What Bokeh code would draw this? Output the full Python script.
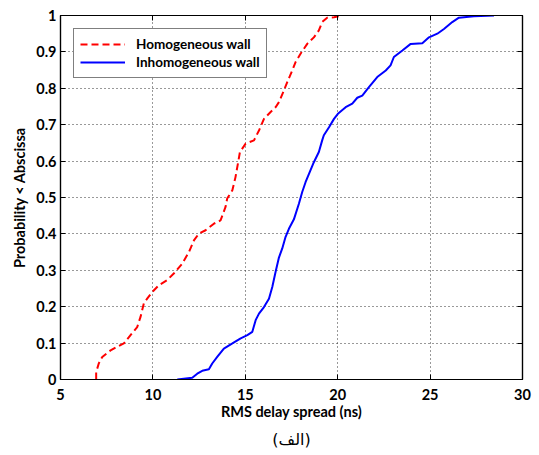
from bokeh.plotting import figure
from bokeh.models import (LinearAxis, FixedTicker, CustomJSTickFormatter, Title,
                          Legend, LegendItem, Range1d)
from bokeh.embed import file_html
from bokeh.resources import INLINE

# Homogeneous wall CDF (RMS delay spread in ns, probability)
homo_x = [6.93, 6.93, 7.07, 7.26, 7.71, 8.07, 8.43, 8.79, 9.15, 9.33, 9.51, 9.69, 9.96,
          10.32, 10.77, 11.13, 11.58, 11.95, 12.22, 12.49, 12.85, 13.30, 13.66, 13.93,
          14.02, 14.30, 14.47, 14.60, 14.71, 15.02, 15.47, 15.74, 16.01, 16.37, 16.64,
          16.82, 17.09, 17.27, 17.54, 17.72, 17.99, 18.35, 18.71, 18.98, 19.16, 19.43,
          19.80, 20.25]
homo_y = [0.0, 0.02, 0.044, 0.062, 0.080, 0.090, 0.099, 0.122, 0.144, 0.172, 0.209, 0.222,
          0.240, 0.259, 0.273, 0.291, 0.318, 0.350, 0.382, 0.401, 0.410, 0.428, 0.437,
          0.474, 0.497, 0.520, 0.556, 0.593, 0.625, 0.648, 0.657, 0.684, 0.716, 0.735,
          0.748, 0.762, 0.794, 0.817, 0.849, 0.872, 0.895, 0.922, 0.940, 0.959, 0.982,
          0.994, 0.995, 1.0]

# Inhomogeneous wall CDF
inho_x = [11.32, 12.13, 12.40, 12.67, 13.03, 13.21, 13.48, 13.84, 14.30, 14.75, 15.11,
          15.38, 15.56, 15.74, 16.01, 16.28, 16.46, 16.64, 16.82, 17.00, 17.18, 17.36,
          17.63, 17.90, 18.08, 18.26, 18.53, 18.71, 18.98, 19.16, 19.25, 19.53, 19.80,
          20.01, 20.43, 20.79, 21.06, 21.33, 21.69, 22.14, 22.60, 22.86, 23.04, 23.50,
          23.95, 24.58, 24.94, 25.39, 25.75, 26.20, 26.56, 27.37, 28.46]
inho_y = [0.0, 0.005, 0.016, 0.024, 0.028, 0.044, 0.062, 0.085, 0.099, 0.113, 0.122,
          0.131, 0.163, 0.181, 0.199, 0.222, 0.254, 0.296, 0.335, 0.360, 0.392, 0.414,
          0.440, 0.483, 0.515, 0.542, 0.575, 0.597, 0.625, 0.657, 0.671, 0.693, 0.716,
          0.730, 0.748, 0.758, 0.774, 0.780, 0.803, 0.831, 0.849, 0.863, 0.886, 0.904,
          0.922, 0.924, 0.940, 0.950, 0.963, 0.982, 0.994, 0.998, 1.0]

x_ticks = [5, 10, 15, 20, 25, 30]
y_ticks = [0, 0.1, 0.2, 0.3, 0.4, 0.5, 0.6, 0.7, 0.8, 0.9, 1.0]
series_names = ["Homogeneous wall", "Inhomogeneous wall"]
x_label = "RMS delay spread (ns)"
y_label = "Probability < Abscissa"
caption = "(الف)"

FONT = "Lato"

p = figure(width=539, height=455, output_backend="svg", toolbar_location=None,
           x_range=Range1d(5, 30), y_range=Range1d(0, 1),
           min_border_left=60, min_border_right=17, min_border_top=15, min_border_bottom=76)
p.background_fill_color = "white"
p.border_fill_color = "white"
p.outline_line_color = "black"
p.outline_line_width = 1.2

r1 = p.line(homo_x, homo_y, line_color="#ff0000", line_width=2, line_dash="7 4")
r2 = p.line(inho_x, inho_y, line_color="#0000ff", line_width=2)

yfmt = CustomJSTickFormatter(code="return tick.toFixed(1).replace(/\\.0$/, '');")
blank = CustomJSTickFormatter(code="return '';")

for ax in [p.xaxis[0], p.yaxis[0]]:
    ax.major_tick_in = 5
    ax.major_tick_out = 0
    ax.minor_tick_line_color = None
    ax.axis_line_color = "black"
    ax.axis_line_width = 1.2
    ax.major_tick_line_color = "black"
    ax.major_label_text_font = FONT
    ax.major_label_text_font_style = "bold"
    ax.major_label_text_font_size = "14.5px"
    ax.major_label_text_color = "black"
    ax.axis_label_text_font = FONT
    ax.axis_label_text_font_style = "bold"
    ax.axis_label_text_font_size = "14.5px"
    ax.axis_label_text_color = "black"

p.xaxis[0].ticker = FixedTicker(ticks=x_ticks)
p.yaxis[0].ticker = FixedTicker(ticks=y_ticks)
p.yaxis[0].formatter = yfmt
p.xaxis[0].axis_label = x_label
p.yaxis[0].axis_label = y_label
p.xaxis[0].major_label_standoff = 9
p.yaxis[0].major_label_standoff = 4
p.xaxis[0].axis_label_standoff = 0
p.yaxis[0].axis_label_standoff = 5

for loc, tk in [("right", y_ticks), ("above", x_ticks)]:
    a = LinearAxis(ticker=FixedTicker(ticks=tk), formatter=blank, major_tick_in=5,
                   major_tick_out=0, minor_tick_line_color=None,
                   major_label_standoff=0, axis_line_color="black", axis_line_width=1.2)
    p.add_layout(a, loc)

p.xgrid.ticker = FixedTicker(ticks=x_ticks)
p.ygrid.ticker = FixedTicker(ticks=y_ticks)
for g in [p.xgrid[0], p.ygrid[0]]:
    g.grid_line_color = "#333333"
    g.grid_line_dash = "1 3"
    g.grid_line_width = 1

legend = Legend(items=[LegendItem(label=series_names[0], renderers=[r1]),
                       LegendItem(label=series_names[1], renderers=[r2])],
                location="top_left")
legend.margin = 13
legend.padding = 6
legend.spacing = 0
legend.glyph_width = 45
legend.glyph_height = 18
legend.label_height = 18
legend.label_standoff = 11
legend.label_text_font = FONT
legend.label_text_font_style = "bold"
legend.label_text_font_size = "13.5px"
legend.label_text_color = "black"
legend.border_line_color = "black"
legend.border_line_width = 1.2
legend.background_fill_color = "white"
legend.background_fill_alpha = 1
p.add_layout(legend)

t = Title(text=caption, align="center", text_font="DejaVu Sans",
          text_font_size="16px", text_font_style="normal", text_color="black",
          standoff=10)
p.add_layout(t, "below")

open("out.html", "w").write(file_html(p, INLINE))
